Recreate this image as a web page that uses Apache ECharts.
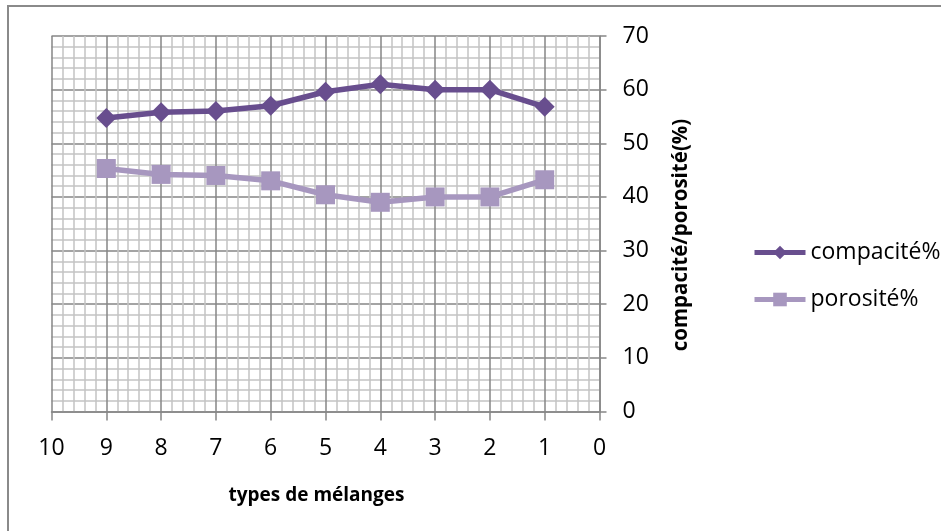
<!DOCTYPE html>
<html>
<head>
<meta charset="utf-8">
<script src="https://cdn.jsdelivr.net/npm/echarts@6/dist/echarts.min.js"></script>
<style>
  html, body { margin: 0; padding: 0; background: #fff; }
  #chart { width: 941px; height: 531px; }
</style>
</head>
<body>
<div id="chart"></div>
<script>
// Mix types (x) and the two measured percentages
const mixTypes = [9, 8, 7, 6, 5, 4, 3, 2, 1];
const compacite = [54.7, 55.8, 56.0, 57.0, 59.6, 61.0, 60.0, 60.0, 56.8];
const porosite = [45.3, 44.2, 44.0, 43.0, 40.4, 39.0, 40.0, 40.0, 43.2];
const seriesNames = ['compacité%', 'porosité%'];
const xAxisTitle = 'types de mélanges';
const yAxisTitle = 'compacité/porosité(%)';

const FONT = '"Open Sans", "Noto Sans", sans-serif';
const MAJOR = '#868686';
const MINOR = '#c3c3c3';
const DARK = '#684e8e';
const LIGHT = '#a797bf';

const toPairs = (xs, ys) => xs.map((x, i) => [x, ys[i]]);

const chart = echarts.init(document.getElementById('chart'), null, { renderer: 'canvas' });

chart.setOption({
  backgroundColor: '#ffffff',
  animation: false,
  textStyle: { fontFamily: FONT, color: '#000' },
  graphic: [
    {
      type: 'rect',
      shape: { x: 8, y: 6, width: 940, height: 530 },
      style: { fill: 'none', stroke: '#8a8a8a', lineWidth: 2 },
      silent: true
    },
    {
      // vertical axis title, read bottom to top
      type: 'text',
      x: 681,
      y: 235,
      rotation: Math.PI / 2,
      style: {
        text: yAxisTitle,
        fontFamily: FONT,
        fontSize: 20.5,
        fontWeight: 'bold',
        fill: '#000',
        align: 'center',
        verticalAlign: 'middle'
      },
      silent: true
    }
  ],
  grid: { left: 51.5, right: 341.5, top: 36, bottom: 119.5, containLabel: false },
  legend: {
    orient: 'vertical',
    left: 747,
    top: 236,
    itemWidth: 51,
    itemHeight: 17,
    itemGap: 24,
    lineStyle: { width: 5 },
    textStyle: { fontFamily: FONT, fontSize: 23, color: '#000', padding: [0, 0, 0, 0] },
    data: seriesNames
  },
  xAxis: {
    type: 'value',
    inverse: true,
    min: 0,
    max: 10,
    interval: 1,
    name: xAxisTitle,
    nameLocation: 'middle',
    nameGap: 75,
    nameTextStyle: { fontFamily: FONT, fontSize: 19, fontWeight: 'bold', color: '#000', padding: [0, 18, 0, 0] },
    axisLine: { show: true, lineStyle: { color: MAJOR, width: 1.5 } },
    axisTick: { show: true, inside: false, length: 9, lineStyle: { color: MAJOR, width: 1.5 } },
    axisLabel: { fontFamily: FONT, fontSize: 23, color: '#000', margin: 25 },
    splitLine: { show: true, lineStyle: { color: MAJOR, width: 1.5 } },
    minorTick: { show: false, splitNumber: 5 },
    minorSplitLine: { show: true, lineStyle: { color: MINOR, width: 1.5 } }
  },
  yAxis: {
    type: 'value',
    position: 'right',
    min: 0,
    max: 70,
    interval: 10,
    axisLine: { show: true, lineStyle: { color: MAJOR, width: 1.5 } },
    axisTick: { show: true, inside: false, length: 7, lineStyle: { color: MAJOR, width: 1.5 } },
    axisLabel: { fontFamily: FONT, fontSize: 23, color: '#000', margin: 23 },
    splitLine: { show: true, lineStyle: { color: MAJOR, width: 1.5 } },
    minorTick: { show: false, splitNumber: 5 },
    minorSplitLine: { show: true, lineStyle: { color: MINOR, width: 1.5 } }
  },
  series: [
    {
      name: seriesNames[0],
      type: 'line',
      data: toPairs(mixTypes, compacite),
      symbol: 'diamond',
      symbolSize: 20,
      color: DARK,
      lineStyle: { color: DARK, width: 5.5 },
      itemStyle: { color: DARK },
      z: 3
    },
    {
      name: seriesNames[1],
      type: 'line',
      data: toPairs(mixTypes, porosite),
      symbol: 'rect',
      symbolSize: 19,
      color: LIGHT,
      lineStyle: { color: LIGHT, width: 5.5 },
      itemStyle: { color: LIGHT },
      z: 2
    }
  ]
});
</script>
</body>
</html>
